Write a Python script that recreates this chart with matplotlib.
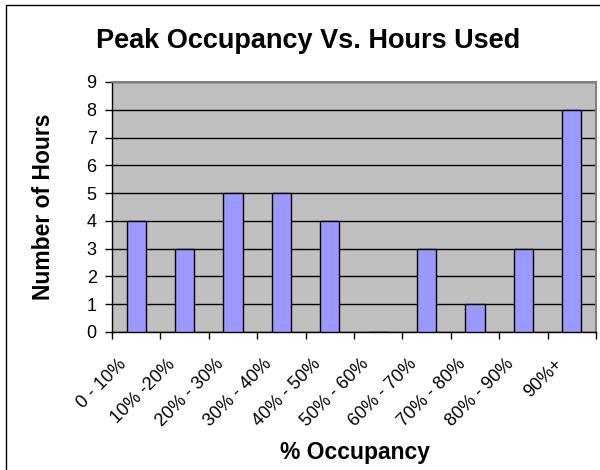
import matplotlib
matplotlib.use('Agg')
import matplotlib.pyplot as plt
import matplotlib.transforms as mtransforms
from matplotlib.patches import Rectangle
import numpy as np

# 数据
categories = ['0 - 10%', '10% -20%', '20% - 30%', '30% - 40%', '40% - 50%',
              '50% - 60%', '60% - 70%', '70% - 80%', '80% - 90%', '90%+']
hours = [4, 3, 5, 5, 4, 0, 3, 1, 3, 8]
y_ticks = [0, 1, 2, 3, 4, 5, 6, 7, 8, 9]

plt.rcParams['font.family'] = ['Liberation Sans', 'DejaVu Sans']

W, H = 600, 470
fig = plt.figure(figsize=(6, 4.7), dpi=100)

# 外框
fig.patches.append(Rectangle((6 / W, -0.1), 1.2, 1 - 5 / H + 0.1,
                             transform=fig.transFigure, fill=False,
                             edgecolor='black', linewidth=1.0))

left, right, top, bottom = 112, 596, 82, 332
ax = fig.add_axes([left / W, 1 - bottom / H, (right - left) / W, (bottom - top) / H])
ax.set_facecolor('#C0C0C0')

x = np.arange(len(categories))
ax.bar(x, hours, width=0.4, color='#9999FF', edgecolor='black', linewidth=1.0, zorder=3)

ax.set_xlim(-0.5, len(categories) - 0.5)
ax.set_ylim(0, 9)
ax.set_yticks(y_ticks)
ax.set_yticklabels([str(v) for v in y_ticks], fontsize=13)
ax.yaxis.grid(True, color='black', linewidth=1.0, zorder=1)
ax.set_axisbelow(True)

# 分类之间的刻度线, 标签放在中间
ax.set_xticks(np.arange(-0.5, len(categories), 1))
ax.set_xticklabels([])
ax.set_xticks(x, minor=True)
ax.set_xticklabels(categories, minor=True, rotation=45, ha='right', va='top',
                   rotation_mode='anchor', fontsize=13)
ax.tick_params(axis='x', which='major', direction='out', length=5, width=1)
ax.tick_params(axis='x', which='minor', length=0, pad=17)
ax.tick_params(axis='y', direction='out', length=5, width=1, pad=6)

# 标签向左移一点
shift = mtransforms.ScaledTranslation(-18 / 100, 0, fig.dpi_scale_trans)
for lab in ax.get_xticklabels(minor=True):
    lab.set_transform(lab.get_transform() + shift)

for s in ['top', 'right']:
    ax.spines[s].set_color('#808080')
    ax.spines[s].set_linewidth(1.5)
for s in ['left', 'bottom']:
    ax.spines[s].set_color('black')
    ax.spines[s].set_linewidth(1.0)

fig.text(308 / W, 1 - 48 / H, 'Peak Occupancy Vs. Hours Used', ha='center',
         va='baseline', fontsize=19.5, fontweight='bold')
fig.text(44 / W, 1 - 207 / H, 'Number of Hours', ha='center', va='center',
         rotation=90, fontsize=16.5, fontweight='bold')
fig.text(355 / W, 1 - 459 / H, '% Occupancy', ha='center', va='baseline',
         fontsize=16.5, fontweight='bold')

fig.savefig('out.png', dpi=100)
